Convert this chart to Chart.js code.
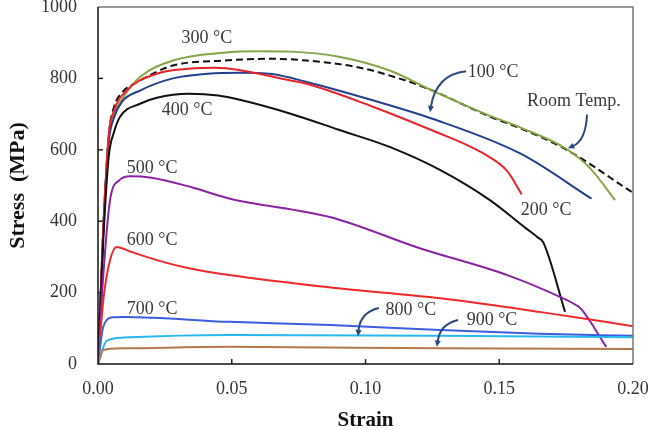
<!DOCTYPE html>
<html>
<head>
<meta charset="utf-8">
<script src="https://cdn.jsdelivr.net/npm/chart.js@4/dist/chart.umd.min.js"></script>
<style>
  html, body { margin: 0; padding: 0; background: #fff; }
  #wrap { width: 651px; height: 430px; }
</style>
</head>
<body>
<div id="wrap"><canvas id="c" width="651" height="430"></canvas></div>
<script>
// ---- Data ----
const xTickLabels = ['0.00', '0.05', '0.10', '0.15', '0.20'];
const yTickLabels = ['0', '200', '400', '600', '800', '1000'];

const roomX = [0, 0.002, 0.004, 0.006, 0.009, 0.0157, 0.028, 0.047, 0.065, 0.078, 0.0967, 0.115, 0.125, 0.1465, 0.158, 0.1752, 0.1995];
const roomY = [0, 380, 640, 720, 760, 794, 836, 850, 855, 850, 832, 794, 766, 693, 660, 600, 482];

const t300X = [0, 0.002, 0.004, 0.006, 0.0095, 0.0157, 0.028, 0.047, 0.06, 0.072, 0.0905, 0.109, 0.125, 0.145, 0.158, 0.175, 0.184, 0.1933];
const t300Y = [0, 380, 640, 700, 748, 804, 850, 872, 876, 875, 860, 822, 766, 700, 662, 603, 548, 459];

const t100X = [0, 0.002, 0.004, 0.006, 0.009, 0.0157, 0.028, 0.041, 0.053, 0.065, 0.078, 0.103, 0.125, 0.158, 0.1845];
const t100Y = [0, 380, 620, 690, 735, 766, 800, 813, 816, 812, 790, 738, 687, 589, 463];

const t200X = [0, 0.002, 0.004, 0.006, 0.0107, 0.022, 0.034, 0.044, 0.053, 0.072, 0.078, 0.103, 0.128, 0.138, 0.1465, 0.153, 0.1584];
const t200Y = [0, 380, 640, 710, 766, 813, 827, 830, 823, 794, 785, 720, 645, 613, 579, 540, 475];

const t400X = [0, 0.002, 0.004, 0.006, 0.0082, 0.0157, 0.022, 0.034, 0.045, 0.053, 0.072, 0.09, 0.109, 0.128, 0.1465, 0.16, 0.1645, 0.1665, 0.1746];
const t400Y = [0, 350, 580, 650, 692, 729, 746, 757, 752, 740, 701, 656, 608, 543, 459, 380, 354, 340, 146];

const t500X = [0, 0.002, 0.0045, 0.008, 0.012, 0.02, 0.035, 0.0494, 0.087, 0.12, 0.153, 0.1727, 0.1785, 0.1805, 0.19];
const t500Y = [0, 250, 459, 515, 526, 522, 495, 463, 411, 325, 249, 188, 166, 155, 48];

const t600X = [0, 0.002, 0.0045, 0.007, 0.012, 0.022, 0.034, 0.049, 0.087, 0.128, 0.165, 0.2];
const t600Y = [0, 180, 291, 328, 315, 291, 268, 249, 214, 184, 146, 106];

const t700X = [0, 0.002, 0.0057, 0.01, 0.049, 0.087, 0.128, 0.165, 0.2];
const t700Y = [0, 105, 131, 132, 118, 109, 95, 85, 79];

const t800X = [0, 0.0032, 0.0095, 0.049, 0.128, 0.2];
const t800Y = [0, 65, 74, 81, 79, 75];

const t900X = [0, 0.002, 0.0095, 0.049, 0.128, 0.2];
const t900Y = [0, 39, 44, 48, 44, 42];

// annotation labels (data coordinates)
const labelTexts = ['300 °C', '400 °C', '500 °C', '600 °C', '700 °C', '100 °C', 'Room Temp.', '200 °C', '800 °C', '900 °C'];
const labelX = [0.0407, 0.0333, 0.0202, 0.0202, 0.0202, 0.1477, 0.1779, 0.1675, 0.117, 0.1473];
const labelY = [912, 710, 548, 347, 154, 817, 736, 431, 151, 123];

// arrows: start, control, end (data coordinates)
const arrowStartX = [0.1376, 0.1828, 0.105, 0.1346];
const arrowStartY = [820, 699, 157, 123];
const arrowCtrlX = [0.1264, 0.1824, 0.098, 0.1279];
const arrowCtrlY = [811, 627, 145, 112];
const arrowEndX = [0.1241, 0.1757, 0.0972, 0.1267];
const arrowEndY = [705, 604, 78, 48];

function pts(xs, ys) { return xs.map((x, i) => ({ x: x, y: ys[i] })); }

const SERIF = "'Liberation Serif', 'Times New Roman', serif";

function ds(label, xs, ys, color, extra) {
  return Object.assign({
    label: label,
    data: pts(xs, ys),
    borderColor: color,
    backgroundColor: color,
    borderWidth: 2,
    pointRadius: 0,
    fill: false,
    cubicInterpolationMode: 'monotone'
  }, extra || {});
}

const frameAndAnnotations = {
  id: 'frameAndAnnotations',
  beforeDatasetsDraw(chart) {
    const { ctx, chartArea: a, scales } = chart;
    ctx.save();
    ctx.strokeStyle = '#222';
    ctx.lineWidth = 1.5;
    [0.05, 0.10, 0.15].forEach(v => {
      const px = scales.x.getPixelForValue(v);
      ctx.beginPath(); ctx.moveTo(px, a.bottom); ctx.lineTo(px, a.bottom - 5); ctx.stroke();
    });
    [200, 400, 600, 800].forEach(v => {
      const py = scales.y.getPixelForValue(v);
      ctx.beginPath(); ctx.moveTo(a.left, py); ctx.lineTo(a.left + 5, py); ctx.stroke();
    });
    ctx.restore();
  },
  afterDatasetsDraw(chart) {
    const { ctx, chartArea: a, scales } = chart;
    const X = v => scales.x.getPixelForValue(v);
    const Y = v => scales.y.getPixelForValue(v);
    ctx.save();
    ctx.lineWidth = 1.5;
    ctx.strokeStyle = '#777';
    ctx.beginPath(); ctx.moveTo(a.left, a.top); ctx.lineTo(a.right, a.top); ctx.lineTo(a.right, a.bottom); ctx.stroke();
    ctx.strokeStyle = '#111';
    ctx.beginPath(); ctx.moveTo(a.left, a.top); ctx.lineTo(a.left, a.bottom); ctx.lineTo(a.right, a.bottom); ctx.stroke();

    ctx.fillStyle = '#3a3a3a';
    ctx.font = '18px ' + SERIF;
    ctx.textAlign = 'center';
    ctx.textBaseline = 'middle';
    labelTexts.forEach((t, i) => ctx.fillText(t, X(labelX[i]), Y(labelY[i])));

    ctx.strokeStyle = '#2b4a7e';
    ctx.fillStyle = '#2b4a7e';
    ctx.lineWidth = 2;
    for (let i = 0; i < arrowStartX.length; i++) {
      const sx = X(arrowStartX[i]), sy = Y(arrowStartY[i]);
      const cx = X(arrowCtrlX[i]), cy = Y(arrowCtrlY[i]);
      const ex = X(arrowEndX[i]), ey = Y(arrowEndY[i]);
      const ang = Math.atan2(ey - cy, ex - cx);
      const hl = 7;
      const bx = ex - Math.cos(ang) * hl * 0.8, by = ey - Math.sin(ang) * hl * 0.8;
      ctx.beginPath(); ctx.moveTo(sx, sy); ctx.quadraticCurveTo(cx, cy, bx, by); ctx.stroke();
      ctx.beginPath();
      ctx.moveTo(ex, ey);
      ctx.lineTo(ex - hl * Math.cos(ang - 0.45), ey - hl * Math.sin(ang - 0.45));
      ctx.lineTo(ex - hl * Math.cos(ang + 0.45), ey - hl * Math.sin(ang + 0.45));
      ctx.closePath(); ctx.fill();
    }
    ctx.restore();
  }
};

function zeroPad(s) { s.paddingTop = 0; s.paddingBottom = 0; s.paddingLeft = 0; s.paddingRight = 0; }

new Chart(document.getElementById('c'), {
  type: 'line',
  data: {
    datasets: [
      ds('900 °C', t900X, t900Y, '#b5784a'),
      ds('800 °C', t800X, t800Y, '#28b8ec'),
      ds('700 °C', t700X, t700Y, '#3d5ee0'),
      ds('600 °C', t600X, t600Y, '#f0282a'),
      ds('500 °C', t500X, t500Y, '#8a23a3'),
      ds('400 °C', t400X, t400Y, '#111111'),
      ds('200 °C', t200X, t200Y, '#e8242b'),
      ds('100 °C', t100X, t100Y, '#243f8f'),
      ds('300 °C', t300X, t300Y, '#86a548'),
      ds('Room Temp.', roomX, roomY, '#111111', { borderDash: [7, 4] })
    ]
  },
  options: {
    responsive: false,
    animation: false,
    devicePixelRatio: 1,
    layout: { autoPadding: false, padding: { left: 0, right: 18, top: 7, bottom: 0 } },
    plugins: { legend: { display: false }, tooltip: { enabled: false } },
    scales: {
      x: {
        type: 'linear', min: 0, max: 0.2,
        afterFit(s) { s.height = 66; zeroPad(s); },
        grid: { display: false, drawTicks: false },
        border: { display: false },
        ticks: {
          stepSize: 0.05, padding: 14, color: '#333',
          font: { family: SERIF, size: 18 },
          callback: (v, i) => xTickLabels[i]
        },
        title: { display: true, text: 'Strain', color: '#111', font: { family: SERIF, size: 21, weight: 'bold', lineHeight: 0.9 }, padding: { top: 0, bottom: 0 } }
      },
      y: {
        min: 0, max: 1000,
        afterFit(s) { s.width = 98; zeroPad(s); },
        grid: { display: false, drawTicks: false },
        border: { display: false },
        ticks: {
          stepSize: 200, padding: 21, color: '#333',
          font: { family: SERIF, size: 18 },
          callback: (v, i) => yTickLabels[i]
        },
        title: { display: true, text: 'Stress  (MPa)', color: '#111', font: { family: SERIF, size: 22, weight: 'bold' }, padding: { top: 5, bottom: 0 } }
      }
    }
  },
  plugins: [frameAndAnnotations]
});
</script>
</body>
</html>
